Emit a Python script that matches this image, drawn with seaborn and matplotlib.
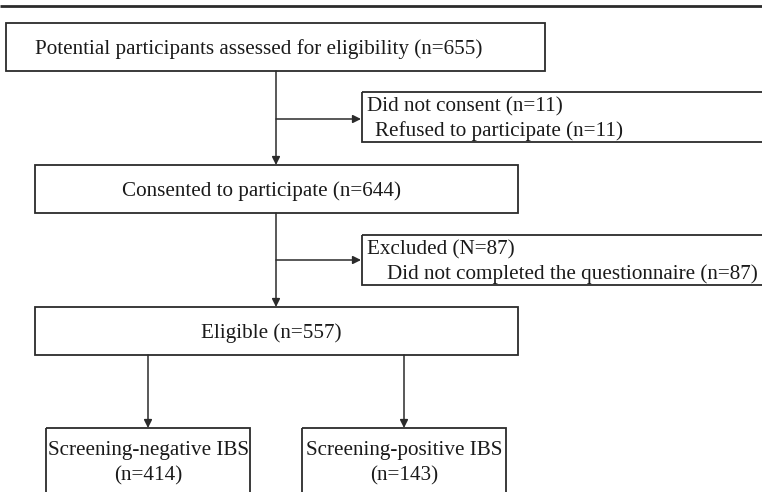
import matplotlib
matplotlib.use("Agg")
import matplotlib.pyplot as plt
from matplotlib.patches import Rectangle
import seaborn as sns

# ---- data ----
stage_labels = ["Potential participants assessed for eligibility",
                "Consented to participate",
                "Eligible"]
stage_n = [655, 644, 557]
excl_titles = ["Did not consent", "Excluded"]
excl_title_tags = ["n", "N"]
excl_title_n = [11, 87]
excl_reasons = ["Refused to participate", "Did not completed the questionnaire"]
excl_reason_n = [11, 87]
group_labels = ["Screening-negative IBS", "Screening-positive IBS"]
group_n = [414, 143]

sns.set_theme(style="white")
plt.rcParams['font.family'] = ['Liberation Serif', 'DejaVu Serif']

W, H = 762, 492
fig = plt.figure(figsize=(W / 100, H / 100), dpi=100)
ax = fig.add_axes([0, 0, 1, 1])
ax.set_xlim(0, W)
ax.set_ylim(H, 0)
ax.axis("off")

EC = "#2b2b2b"
LW = 1.3
FS = 15.2

def box(x0, y0, x1, y1):
    ax.add_patch(Rectangle((x0, y0), x1 - x0, y1 - y0, fill=False,
                           edgecolor=EC, linewidth=LW, clip_on=True))

def arrow(x0, y0, x1, y1):
    ax.annotate("", xy=(x1, y1), xytext=(x0, y0),
                arrowprops=dict(arrowstyle="-|>", color=EC, lw=1.1,
                                mutation_scale=12, shrinkA=0, shrinkB=0))

# top rule
ax.plot([0, W], [6, 6], color=EC, lw=2.0, solid_capstyle="butt")

# main boxes
main_boxes = [(6, 23, 545, 71), (35, 165, 518, 213), (35, 307, 518, 355)]
text_left = [35, 122, 201]
for (x0, y0, x1, y1), lab, n, tx in zip(main_boxes, stage_labels, stage_n, text_left):
    box(x0, y0, x1, y1)
    ax.text(tx, (y0 + y1) / 2 + 2, f"{lab} (n={n})", ha="left", va="center",
            fontsize=FS, color="#1a1a1a")

# vertical flow + side branches
xc = 276
arrow(xc, 71, xc, 165)
arrow(xc, 213, xc, 307)
side_boxes = [(362, 92, 800, 142), (362, 235, 800, 285)]
branch_y = [119, 260]
reason_indent = [375, 387]
for (x0, y0, x1, y1), by, t, tag, tn, r, rn, ri in zip(
        side_boxes, branch_y, excl_titles, excl_title_tags, excl_title_n,
        excl_reasons, excl_reason_n, reason_indent):
    arrow(xc, by, x0 - 1, by)
    box(x0, y0, x1, y1)
    ax.text(367, y0 + 15, f"{t} ({tag}={tn})", ha="left", va="center",
            fontsize=FS, color="#1a1a1a")
    ax.text(ri, y0 + 39, f"{r} (n={rn})", ha="left", va="center",
            fontsize=FS, color="#1a1a1a")

# split into groups
group_boxes = [(46, 428, 250, 520), (302, 428, 506, 520)]
for (x0, y0, x1, y1), g, n in zip(group_boxes, group_labels, group_n):
    cx = (x0 + x1) / 2
    arrow(cx, 355, cx, y0)
    box(x0, y0, x1, y1)
    ax.text(cx, 451, g, ha="center", va="center", fontsize=FS, color="#1a1a1a")
    ax.text(cx, 476, f"(n={n})", ha="center", va="center", fontsize=FS, color="#1a1a1a")

fig.savefig("out.png", dpi=100)
